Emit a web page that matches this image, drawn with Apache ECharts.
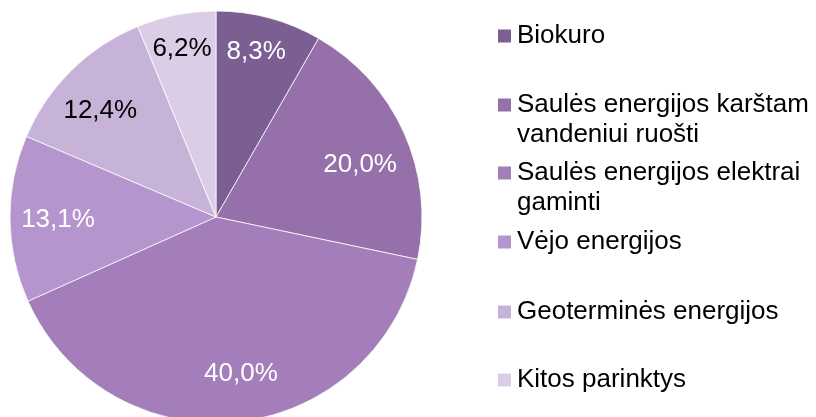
<!DOCTYPE html>
<html>
<head>
<meta charset="utf-8">
<script src="https://cdn.jsdelivr.net/npm/echarts@6/dist/echarts.min.js"></script>
<style>
  html, body { margin: 0; padding: 0; background: #fff; }
  #chart { width: 816px; height: 417px; }
</style>
</head>
<body>
<div id="chart"></div>
<script>
const categories = [
  'Biokuro',
  'Saulės energijos karštam\nvandeniui ruošti',
  'Saulės energijos elektrai\ngaminti',
  'Vėjo energijos',
  'Geoterminės energijos',
  'Kitos parinktys'
]
const shares = [8.3, 20.0, 40.0, 13.1, 12.4, 6.2]
const colors = ['#7B5E92', '#9670AA', '#A37EBB', '#B595CD', '#C8B3D8', '#DCCDE6']
const labelColors = ['#fff', '#fff', '#fff', '#fff', '#000', '#000']
// small slices get their label further out
const smallSlice = [true, false, false, false, false, true]
// small nudges so labels sit where the original placed them
const labelNudge = [[-5, 4], [-1, 13], [8, -1], [1, 1], [-4, 7], [0, 4]]
// vertical centre of each legend marker
const legendRows = [36, 105, 173, 242, 312, 380]

const center = [216, 217]
const R = 206
const font = 'Liberation Sans, Arial, sans-serif'

const fmt = (p) => p.value.toFixed(1).replace('.', ',') + '%'

const labelSeries = (r0, useSmall) => ({
  type: 'pie',
  center: center,
  radius: [r0, R],
  silent: true,
  legendHoverLink: false,
  emphasis: { disabled: true },
  itemStyle: { color: 'rgba(0,0,0,0)' },
  labelLine: { show: false },
  labelLayout: (p) => ({ dx: labelNudge[p.dataIndex][0], dy: labelNudge[p.dataIndex][1] }),
  data: categories.map((name, i) => ({
    name: name,
    value: shares[i],
    label: {
      show: smallSlice[i] === useSmall,
      position: 'inside',
      formatter: fmt,
      color: labelColors[i],
      fontSize: 26,
      fontFamily: font
    }
  }))
})

const legends = categories.map((name, i) => {
  const multi = name.indexOf('\n') >= 0
  return {
    orient: 'vertical',
    left: 496,
    top: legendRows[i] - (multi ? 45 : 15),
    padding: 0,
    icon: 'rect',
    itemWidth: 15,
    itemHeight: 15,
    selectedMode: false,
    formatter: (n) => (n.indexOf('\n') >= 0 ? '\n' + n : n),
    textStyle: { fontSize: 26, lineHeight: 30, color: '#000', fontFamily: font },
    data: [{ name: name, itemStyle: { color: colors[i] } }]
  }
})

const chart = echarts.init(document.getElementById('chart'))
chart.setOption({
  animation: false,
  legend: legends,
  series: [
    {
      type: 'pie',
      center: center,
      radius: R,
      startAngle: 90,
      label: { show: false },
      labelLine: { show: false },
      itemStyle: { borderColor: '#fff', borderWidth: 0.75 },
      data: categories.map((name, i) => ({
        name: name,
        value: shares[i],
        itemStyle: { color: colors[i] }
      }))
    },
    labelSeries(106, false),
    labelSeries(139, true)
  ]
})
</script>
</body>
</html>
